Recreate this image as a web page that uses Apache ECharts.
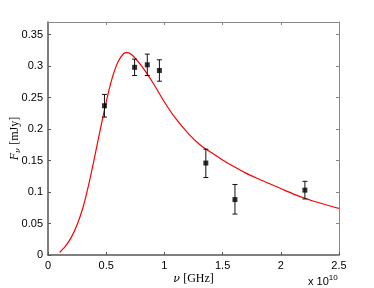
<!DOCTYPE html>
<html><head><meta charset="utf-8">
<script src="https://cdn.jsdelivr.net/npm/echarts@6/dist/echarts.min.js"></script>
<style>html,body{margin:0;padding:0;background:#fff}#c{width:374px;height:288px}</style>
</head><body><div id="c"></div>
<script>
// frequency in units of 1e10 Hz
var modelX = [0.10,0.15,0.20,0.25,0.30,0.35,0.40,0.45,0.50,0.55,0.60,0.65,0.68,0.72,0.80,0.90,1.00,1.10,1.20,1.30,1.40,1.50,1.60,1.70,1.80,1.90,2.00,2.10,2.20,2.30,2.40,2.50];
var modelY = [0.004,0.014,0.028,0.048,0.075,0.112,0.155,0.200,0.243,0.280,0.306,0.320,0.3215,0.318,0.301,0.274,0.243,0.216,0.194,0.176,0.163,0.151,0.140,0.130,0.1215,0.1135,0.1055,0.0975,0.0905,0.0845,0.079,0.074];
var obsX = [0.485,0.744,0.853,0.957,1.356,1.606,2.207];
var obsY = [0.237,0.298,0.302,0.293,0.146,0.088,0.103];
var obsLo = [0.219,0.285,0.285,0.276,0.123,0.065,0.089];
var obsHi = [0.255,0.311,0.319,0.310,0.168,0.112,0.117];
var xTicks = [0,0.5,1,1.5,2,2.5];
var yTicks = [0,0.05,0.1,0.15,0.2,0.25,0.3,0.35];

var chart = echarts.init(document.getElementById('c'));
var model = modelX.map(function(x,i){return [x, modelY[i]];});
var pts = obsX.map(function(x,i){return [x, obsY[i]];});
var errs = obsX.map(function(x,i){return [x, obsLo[i], obsHi[i]];});
var axisCol = '#555';
var lblFont = {color:'#000', fontSize:11, fontFamily:'Liberation Sans, Arial, sans-serif'};
function fmt(v){ return String(+v.toFixed(2)); }
chart.setOption({
  animation:false,
  grid:{left:48, right:35, top:22, bottom:33, containLabel:false, outerBoundsMode:'none'},
  xAxis:[{
    type:'value', min:0, max:2.5, interval:0.5, position:'bottom',
    axisLine:{show:true,onZero:false,lineStyle:{color:axisCol,width:1.5}},
    axisTick:{show:true,inside:true,length:3,lineStyle:{color:axisCol}},
    axisLabel:Object.assign({margin:5, formatter:function(v){return xTicks.indexOf(+v.toFixed(2))>=0?fmt(v):'';}},lblFont),
    splitLine:{show:false},
    name:'{i|ν} {r|[GHz]}', nameLocation:'middle', nameGap:18, nameMoveOverlap:false,
    nameTextStyle:{rich:{i:{fontFamily:'DejaVu Serif', fontStyle:'italic', fontSize:11,color:'#000'}, r:{fontFamily:'Liberation Serif', fontSize:12,color:'#000'}}}
  },{
    type:'value', min:0, max:2.5, interval:0.5, position:'top',
    axisLine:{show:true,onZero:false,lineStyle:{color:'#888',width:1}},
    axisTick:{show:true,inside:true,length:3,lineStyle:{color:'#888'}},
    axisLabel:{show:false}, splitLine:{show:false}
  }],
  yAxis:[{
    type:'value', min:0, max:0.37, interval:0.05, position:'left',
    axisLine:{show:true,onZero:false,lineStyle:{color:axisCol,width:1.5}},
    axisTick:{show:true,inside:true,length:3,lineStyle:{color:axisCol}},
    axisLabel:Object.assign({margin:5, showMaxLabel:false, formatter:function(v){return yTicks.indexOf(+v.toFixed(2))>=0?fmt(v):'';}},lblFont),
    splitLine:{show:false},
    name:'{i|F}{s|ν} {r|[mJy]}', nameLocation:'middle', nameGap:26, nameRotate:90, nameMoveOverlap:false,
    nameTextStyle:{rich:{i:{fontFamily:'Liberation Serif', fontStyle:'italic', fontSize:12,color:'#000'}, s:{fontFamily:'DejaVu Serif',fontStyle:'italic',fontSize:8,color:'#000',verticalAlign:'bottom',padding:[6,0,0,0]}, r:{fontFamily:'Liberation Serif', fontSize:12,color:'#000'}}}
  },{
    type:'value', min:0, max:0.37, interval:0.05, position:'right',
    axisLine:{show:true,onZero:false,lineStyle:{color:'#888',width:1}},
    axisTick:{show:true,inside:true,length:3,lineStyle:{color:'#888'}},
    axisLabel:{show:false}, splitLine:{show:false}
  }],
  graphic:[{
    type:'text', left:308, top:274,
    style:{text:'x 10{s|10}', fill:'#000', font:'11px Liberation Sans, Arial, sans-serif',
      rich:{s:{fontSize:8, fontFamily:'Liberation Sans', fill:'#000', padding:[0,0,8,0]}}}
  }],
  series:[{
    type:'line', data:model, smooth:0.3, showSymbol:false, symbol:'none',
    lineStyle:{color:'#ff0000', width:1.2}, z:2
  },{
    type:'custom', data:errs, z:3,
    renderItem:function(params, api){
      var x = api.value(0);
      var lo = api.coord([x, api.value(1)]);
      var hi = api.coord([x, api.value(2)]);
      var w = 2.5;
      var st = {stroke:'#111', lineWidth:1};
      return {type:'group', children:[
        {type:'line', shape:{x1:lo[0],y1:lo[1],x2:hi[0],y2:hi[1]}, style:st},
        {type:'line', shape:{x1:lo[0]-w,y1:lo[1],x2:lo[0]+w,y2:lo[1]}, style:st},
        {type:'line', shape:{x1:hi[0]-w,y1:hi[1],x2:hi[0]+w,y2:hi[1]}, style:st}
      ]};
    }
  },{
    type:'scatter', data:pts, symbol:'rect', symbolSize:5, z:4,
    itemStyle:{color:'#000'}
  }]
});
</script></body></html>
